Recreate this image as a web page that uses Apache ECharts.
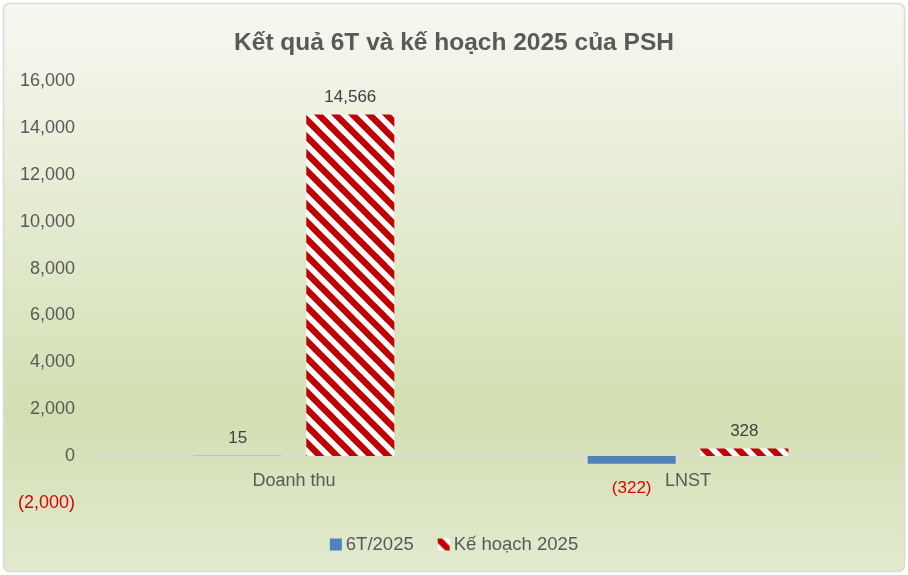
<!DOCTYPE html>
<html>
<head>
<meta charset="utf-8">
<script src="https://cdn.jsdelivr.net/npm/echarts@6/dist/echarts.min.js"></script>
<style>
html,body{margin:0;padding:0;background:#fff;}
#c{width:908px;height:575px;}
</style>
</head>
<body>
<div id="c"></div>
<script>
var titleText = 'Kết quả 6T và kế hoạch 2025 của PSH';
var categories = ['Doanh thu', 'LNST'];
var seriesNames = ['6T/2025', 'Kế hoạch 2025'];
var actual6T = [15, -322];
var plan2025 = [14566, 328];
var yMin = -2000, yMax = 16000, yStep = 2000;

function fmt(v) {
  var s = Math.abs(v).toLocaleString('en-US');
  return v < 0 ? '(' + s + ')' : s;
}

// diagonal stripe pattern
var P = 17;
var cv = document.createElement('canvas');
cv.width = P; cv.height = P;
var cx = cv.getContext('2d');
cx.fillStyle = '#ffffff';
cx.fillRect(0, 0, P, P);
cx.strokeStyle = '#c00000';
cx.lineWidth = 6.5;
for (var k = -1; k <= 1; k++) {
  cx.beginPath();
  cx.moveTo(k * P - 2, -2);
  cx.lineTo(k * P + P + 2, P + 2);
  cx.stroke();
}
var stripe = { image: cv, repeat: 'repeat' };

var chart = echarts.init(document.getElementById('c'), null, { renderer: 'canvas' });
chart.setOption({
  backgroundColor: '#ffffff',
  animation: false,
  graphic: [{
    type: 'rect',
    z: -10,
    silent: true,
    shape: { x: 3.5, y: 3.5, width: 901, height: 568, r: 6 },
    style: {
      fill: new echarts.graphic.LinearGradient(0, 0, 0, 1, [
        { offset: 0, color: '#f6f8f1' },
        { offset: 0.72, color: '#d3dfb2' },
        { offset: 1, color: '#e2eacf' }
      ]),
      stroke: '#d9d9d9',
      lineWidth: 1.5
    }
  }],
  title: {
    text: titleText,
    left: 'center',
    top: 26,
    textStyle: {
      fontFamily: 'Liberation Sans, Arial',
      fontWeight: 'bold',
      fontSize: 24.5,
      color: '#595959'
    }
  },
  legend: {
    bottom: 16,
    left: 'center',
    itemWidth: 12,
    itemHeight: 12,
    itemGap: 24,
    icon: 'rect',
    textStyle: { fontFamily: 'Liberation Sans, Arial', fontSize: 18.5, color: '#595959', padding: [0, 0, 0, -1] },
    data: seriesNames
  },
  grid: { left: 97, right: 23, top: 81, bottom: 72, containLabel: false },
  xAxis: {
    type: 'category',
    data: categories,
    axisLine: { onZero: true, lineStyle: { color: '#d9d9d9', width: 1.5 } },
    axisTick: { show: false },
    axisLabel: { fontFamily: 'Liberation Sans, Arial', fontSize: 18, color: '#595959', margin: -31 }
  },
  yAxis: {
    type: 'value',
    min: yMin,
    max: yMax,
    interval: yStep,
    splitLine: { show: false },
    axisLine: { show: false },
    axisTick: { show: false },
    axisLabel: {
      margin: 22,
      fontFamily: 'Liberation Sans, Arial',
      fontSize: 18,
      color: '#595959',
      formatter: function (v) { return v < 0 ? '{neg|' + fmt(v) + '}' : fmt(v); },
      rich: { neg: { color: '#e00000', fontFamily: 'Liberation Sans, Arial', fontSize: 18 } }
    }
  },
  series: [
    {
      name: seriesNames[0],
      type: 'bar',
      barWidth: 88,
      barGap: '28%',
      itemStyle: { color: '#4f81bd' },
      data: actual6T.map(function (v) {
        return {
          value: v,
          label: v < 0
            ? { show: true, position: 'bottom', distance: 16, color: '#e00000', formatter: function (p) { return fmt(p.value); } }
            : { show: true, position: 'top', distance: 9, color: '#404040', formatter: function (p) { return fmt(p.value); } }
        };
      }),
      label: { fontFamily: 'Liberation Sans, Arial', fontSize: 17 }
    },
    {
      name: seriesNames[1],
      type: 'bar',
      barWidth: 88,
      itemStyle: { color: stripe },
      data: plan2025,
      label: {
        show: true, position: 'top', distance: 9, color: '#404040',
        fontFamily: 'Liberation Sans, Arial', fontSize: 17,
        formatter: function (p) { return fmt(p.value); }
      }
    }
  ]
});
</script>
</body>
</html>
